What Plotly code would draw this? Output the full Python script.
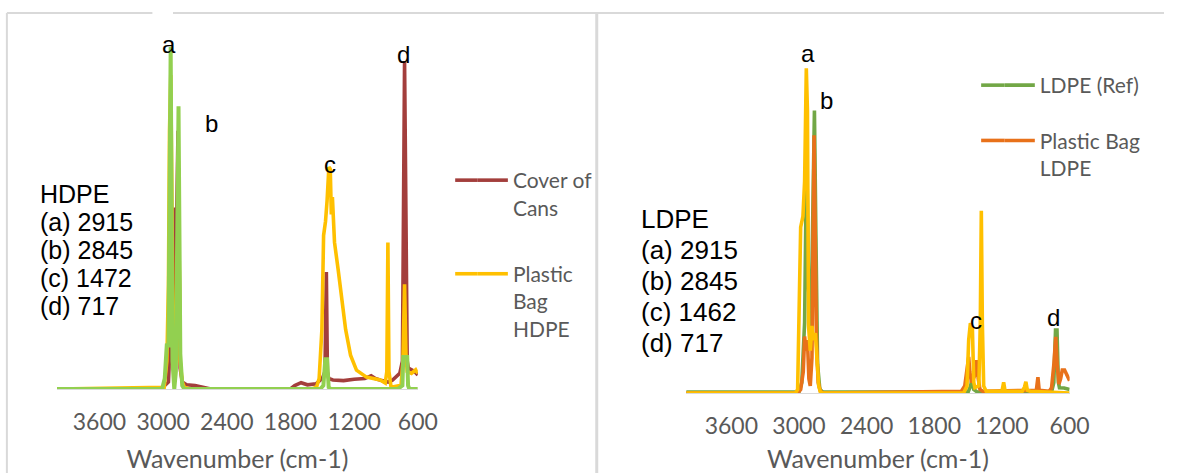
import plotly.graph_objects as go

W, H = 1184, 473

# ---------------- Left panel (HDPE) ----------------
hdpe_ref_wn = [4000, 3010, 2985, 2965, 2950, 2929, 2912, 2895, 2880, 2855, 2838, 2820, 2800,
               1520, 1490, 1472, 1455, 1440, 1420, 790, 745, 737, 700, 692, 680, 600]
hdpe_ref_int = [0, 0, 3, 13, 12, 98, 8, 0, 5, 81, 10, 1, 0,
                0, 1, 8.5, 8.5, 0.5, 0, 0, 1, 9.2, 9.2, 1, 0, 0]

cans_wn = [4000, 3020, 2950, 2925, 2903, 2885, 2860, 2840, 2820, 2780, 2700, 2600, 2550,
           1800, 1760, 1700, 1640, 1560, 1500, 1475, 1462, 1452, 1440, 1400, 1300, 1200,
           1100, 1040, 1000, 950, 880, 840, 800, 770, 745, 735, 725, 712, 700, 690, 660, 630, 600]
cans_int = [0, 0, 2, 20, 52, 22, 74, 6, 2, 1.2, 1, 0.5, 0,
            0, 1, 1.8, 1.2, 1.5, 3, 5, 33.5, 5, 3, 2.6, 2.4, 2.8,
            3, 3.8, 3, 2.5, 2, 2.5, 3.5, 4.5, 8, 47, 94, 50, 8, 6, 5.5, 5, 4]

bag_hdpe_wn = [4000, 2990, 2965, 2950, 2940, 2928, 2910, 2895, 2870, 2855, 2840, 2820, 2800, 2750,
               1600, 1555, 1530, 1504, 1488, 1470, 1455, 1438, 1425, 1415, 1405, 1385, 1350,
               1317, 1280, 1234, 1178, 1084, 954, 907, 892, 882, 872, 852, 800, 758, 740,
               725, 712, 700, 660, 620, 600]
bag_hdpe_int = [0, 0.5, 8, 30, 74, 90, 30, 10, 20, 60, 8, 2, 0.5, 0,
                0, 0.5, 3, 17, 44, 48, 54, 63.6, 63, 50, 55, 42, 34,
                25.5, 17, 9.7, 5.4, 3.4, 2.6, 1.7, 5, 42, 5, 0.5, 0.8, 1.1, 8,
                30, 10, 5, 4.5, 5.5, 4.5]

# ---------------- Right panel (LDPE) ----------------
ldpe_ref_wn = [4000, 3000, 2975, 2950, 2932, 2915, 2895, 2880, 2863, 2850, 2835, 2815, 2790,
               1500, 1478, 1465, 1450, 1420, 760, 740, 725, 712, 700, 690, 650, 600]
ldpe_ref_int = [0.3, 0.3, 3, 20, 70, 30, 15, 40, 80, 45, 8, 1, 0.3,
                0.3, 2, 4, 1, 0.3, 0.3, 3, 17.8, 17.8, 3, 1.5, 1.4, 1]

bag_ldpe_wn = [4000, 3010, 2985, 2962, 2950, 2938, 2925, 2912, 2900, 2885, 2866, 2845, 2830, 2810, 2780,
               1560, 1530, 1505, 1495, 1485, 1470, 1440, 1425, 1410, 1395, 1370,
               895, 881, 870, 780, 760, 740, 723, 710, 695, 680, 665, 645, 625, 600]
bag_ldpe_int = [0, 0, 1, 6, 16, 12, 15, 4, 2, 10, 73, 15, 3, 0.5, 0,
                0.5, 2, 8, 10.2, 6, 3, 5, 9.3, 4, 1, 0.5,
                0.8, 4.5, 0.8, 0.5, 1.5, 8, 15.9, 8, 2.5, 4, 6.5, 6.5, 5, 3.5]

bag2_wn = [4000, 3030, 3012, 2998, 2985, 2965, 2950, 2935, 2925, 2915, 2900, 2885, 2870, 2855,
           2840, 2825, 2810, 2790, 1540, 1510, 1495, 1480, 1462, 1450, 1440, 1405, 1392, 1383,
           1374, 1362, 1340, 1200, 1185, 1172, 1020, 1000, 988, 975, 950, 600]
bag2_int = [0, 0, 1, 20, 47, 50, 60, 92, 80, 19, 12, 19, 15, 17,
            8, 2, 0.3, 0, 0, 2, 15, 19.8, 18, 3, 1.5, 2, 20, 51.6,
            20, 2, 0.5, 0.5, 3, 0.5, 0.5, 1.7, 3.2, 0.8, 0.5, 0]

tick_vals = [3600, 3000, 2400, 1800, 1200, 600]
tick_text = ["3600", "3000", "2400", "1800", "1200", "600"]

C_BROWN = "#A33E3C"
C_GOLD = "#FFC000"
C_LGREEN = "#92D050"
C_OLIVE = "#72A746"
C_ORANGE = "#E8711A"
LW = 3.6


def px2x(px):
    return px / W


def py2y(py):
    return 1 - py / H


fig = go.Figure()

# left panel traces (order: brown, gold, green on top)
fig.add_trace(go.Scatter(x=cans_wn, y=cans_int, mode="lines", name="Cover of<br>Cans",
                         line=dict(color=C_BROWN, width=LW), xaxis="x", yaxis="y",
                         legend="legend", legendgroup="g1"))
fig.add_trace(go.Scatter(x=bag_hdpe_wn, y=bag_hdpe_int, mode="lines", name="Plastic<br>Bag<br>HDPE",
                         line=dict(color=C_GOLD, width=LW), xaxis="x", yaxis="y",
                         legend="legend", legendgroup="g2"))
fig.add_trace(go.Scatter(x=hdpe_ref_wn, y=hdpe_ref_int, mode="lines", name="HDPE (Ref)",
                         line=dict(color=C_LGREEN, width=LW + 0.4), xaxis="x", yaxis="y",
                         showlegend=False))

# right panel traces (order: olive, orange, gold on top)
fig.add_trace(go.Scatter(x=ldpe_ref_wn, y=ldpe_ref_int, mode="lines", name="LDPE (Ref)",
                         line=dict(color=C_OLIVE, width=LW), xaxis="x2", yaxis="y2",
                         legend="legend2", legendgroup="h1"))
fig.add_trace(go.Scatter(x=bag_ldpe_wn, y=bag_ldpe_int, mode="lines", name="Plastic Bag<br>LDPE",
                         line=dict(color=C_ORANGE, width=LW), xaxis="x2", yaxis="y2",
                         legend="legend2", legendgroup="h2"))
fig.add_trace(go.Scatter(x=bag2_wn, y=bag2_int, mode="lines", name="Plastic Bag HDPE",
                         line=dict(color=C_GOLD, width=LW), xaxis="x2", yaxis="y2",
                         showlegend=False))

tick_font = dict(family="Lato, Carlito, sans-serif", size=23, color="#595959")
title_font = dict(family="Lato, Carlito, sans-serif", size=25, color="#595959")

xcommon = dict(range=[4000, 600], tickvals=tick_vals, ticktext=tick_text, showgrid=False,
               zeroline=False, showline=True, linecolor="#D9D9D9", linewidth=1, ticks="",
               tickfont=tick_font, ticklabelstandoff=12,
               title=dict(text="Wavenumber (cm-1)", font=title_font, standoff=16))
ycommon = dict(range=[0, 100], showgrid=False, zeroline=False, showline=False,
               showticklabels=False, ticks="")

leg_font = dict(family="Lato, Carlito, sans-serif", size=21, color="#595959")

fig.update_layout(
    width=W, height=H, autosize=False,
    margin=dict(l=0, r=0, t=0, b=0),
    paper_bgcolor="white", plot_bgcolor="rgba(0,0,0,0)",
    xaxis=dict(domain=[px2x(58), px2x(425)], anchor="y", **xcommon),
    yaxis=dict(domain=[py2y(389), py2y(40)], anchor="x", **ycommon),
    xaxis2=dict(domain=[px2x(698), px2x(1088)], anchor="y2", **xcommon),
    yaxis2=dict(domain=[py2y(393), py2y(40)], anchor="x2", **ycommon),
    legend=dict(x=px2x(481), y=py2y(160), xanchor="left", yanchor="top", font=leg_font,
                bgcolor="rgba(0,0,0,0)", valign="top", tracegroupgap=36, traceorder="grouped"),
    legend2=dict(x=px2x(1017), y=py2y(65), xanchor="left", yanchor="top", font=leg_font,
                 bgcolor="rgba(0,0,0,0)", valign="top", tracegroupgap=25, traceorder="grouped"),
    showlegend=True,
)

# panel frame lines
frame = "#D9D9D9"
fig.add_shape(type="line", xref="paper", yref="paper", x0=px2x(7), x1=1, y0=py2y(13), y1=py2y(13),
              line=dict(color=frame, width=2))
fig.add_shape(type="line", xref="paper", yref="paper", x0=px2x(7), x1=px2x(7), y0=py2y(13), y1=0,
              line=dict(color=frame, width=2))
fig.add_shape(type="line", xref="paper", yref="paper", x0=px2x(607), x1=px2x(607), y0=py2y(13), y1=0,
              line=dict(color=frame, width=3))
fig.add_shape(type="line", xref="paper", yref="paper", x0=px2x(155), x1=px2x(176), y0=py2y(13), y1=py2y(13),
              line=dict(color="white", width=3))

# lengthen the legend key strokes (butt-joined to plotly's own 30px keys)
for col, xa, xb, yy in [(C_BROWN, 463, 486, 180.15), (C_GOLD, 463, 486, 273.75),
                        (C_OLIVE, 998, 1022, 85.15), (C_ORANGE, 998, 1022, 140.45)]:
    fig.add_shape(type="line", xref="paper", yref="paper", x0=px2x(xa), x1=px2x(xb),
                  y0=py2y(yy), y1=py2y(yy), line=dict(color=col, width=LW))

txt_font = dict(family="Liberation Sans, Arial, sans-serif", color="black")

left_block = ["HDPE", "(a) 2915", "(b) 2845", "(c) 1472", "(d) 717"]
left_ys = [194, 222, 250, 278, 306]
for t, yy in zip(left_block, left_ys):
    fig.add_annotation(x=px2x(39), y=py2y(yy), xref="paper", yref="paper", text=t, showarrow=False,
                       xanchor="left", yanchor="middle", font=dict(size=25, **txt_font))

right_block = ["LDPE", "(a) 2915", "(b) 2845", "(c) 1462", "(d) 717"]
right_ys = [219, 250, 281, 312, 343]
for t, yy in zip(right_block, right_ys):
    fig.add_annotation(x=px2x(650), y=py2y(yy), xref="paper", yref="paper", text=t, showarrow=False,
                       xanchor="left", yanchor="middle", font=dict(size=26, **txt_font))

peak_labels = [("a", 172, 45), ("b", 215, 123), ("c", 336, 165), ("d", 410, 55),
               ("a", 822, 53), ("b", 841, 101), ("c", 993, 320), ("d", 1072, 317)]
for t, xx, yy in peak_labels:
    fig.add_annotation(x=px2x(xx), y=py2y(yy), xref="paper", yref="paper", text=t, showarrow=False,
                       xanchor="center", yanchor="middle", font=dict(size=24, **txt_font))

fig.write_html("out.html")
